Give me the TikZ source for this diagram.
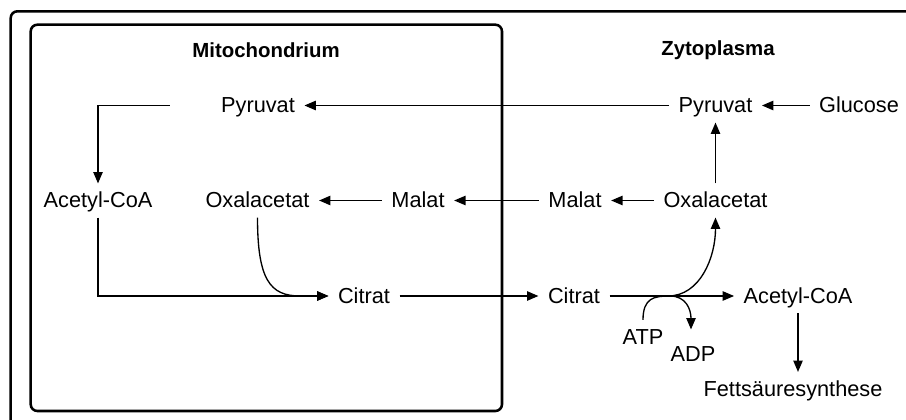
\documentclass[tikz,border=0pt]{standalone}
\usepackage{fontspec}
\setmainfont{Liberation Sans}
\usetikzlibrary{arrows.meta,calc}
\begin{document}
\begin{tikzpicture}[x=0.75pt,y=-0.75pt,
  lbl/.style={font=\fontsize{16.3}{19}\selectfont, text height=11.2pt, text depth=0pt, inner sep=7pt},
  ttl/.style={font=\fontsize{15.3}{18}\selectfont\bfseries, inner sep=0pt},
  arr/.style={line width=1pt, -{Triangle[length=8.5pt,width=7pt]}},
  frame/.style={line width=1.9pt, rounded corners=5pt}]
\useasboundingbox (0,0) rectangle (906,420);
\fill[white] (0,0) rectangle (906,420);
\begin{scope}
\clip (0,0) rectangle (906,420);
\draw[frame] (10.7,11.3) rectangle (940,450);
\end{scope}
\draw[frame] (30.7,24.7) rectangle (502,411);

\node[ttl] (mito) at (266,50) {Mitochondrium};
\node[ttl] (zyto) at (718,50) {Zytoplasma};
\node[lbl] (pyrL) at (258,105.5) {Pyruvat};
\node[lbl] (pyrR) at (715.5,105.5) {Pyruvat};
\node[lbl] (gluc) at (859,105.5) {Glucose};
\node[lbl] (acL) at (98,200.5) {Acetyl-CoA};
\node[lbl] (oxL) at (257.5,200.5) {Oxalacetat};
\node[lbl] (malL) at (418,200.5) {Malat};
\node[lbl] (malR) at (575,200.5) {Malat};
\node[lbl] (oxR) at (715.5,200.5) {Oxalacetat};
\node[lbl] (citL) at (364,296) {Citrat};
\node[lbl] (citR) at (574,296) {Citrat};
\node[lbl] (acR) at (798,296) {Acetyl-CoA};
\node[lbl] (fett) at (793,389) {Fettsäuresynthese};
\node[lbl] (atp) at (643,337) {ATP};
\node[lbl] (adp) at (693,354.5) {ADP};

\draw[arr] (pyrR) -- (pyrL);
\draw[arr] (gluc) -- (pyrR);
\draw[arr] (oxR) -- (pyrR);
\draw[arr] (oxR) -- (malR);
\draw[arr] (malR) -- (malL);
\draw[arr] (malL) -- (oxL);
\draw[arr] ($(pyrL.west)+(-42,0)$) -| (acL.north);
\draw[arr] (acL.south) |- (citL.west);
\coordinate (j1) at (300,296);
\draw[arr] (oxL.south) .. controls +(0,62) and +(-30,0) .. (j1) -- (citL.west);
\draw[arr] (citL) -- (citR);
\draw[arr] (citR) -- (acR);
\coordinate (j2) at (668,296);
\draw[arr] (j2) .. controls +(32,0) and +(0,40) .. (oxR.south);
\coordinate (j3) at (670,296);
\draw[arr] (atp.north) .. controls +(0,-22) and +(-16,0) .. (j3)
  .. controls +(16,0) and +(0,-20) .. ($(adp.north)+(-2,-8)$);
\draw[arr] (acR.south) -- (acR.south |- fett.north);
\end{tikzpicture}
\end{document}
